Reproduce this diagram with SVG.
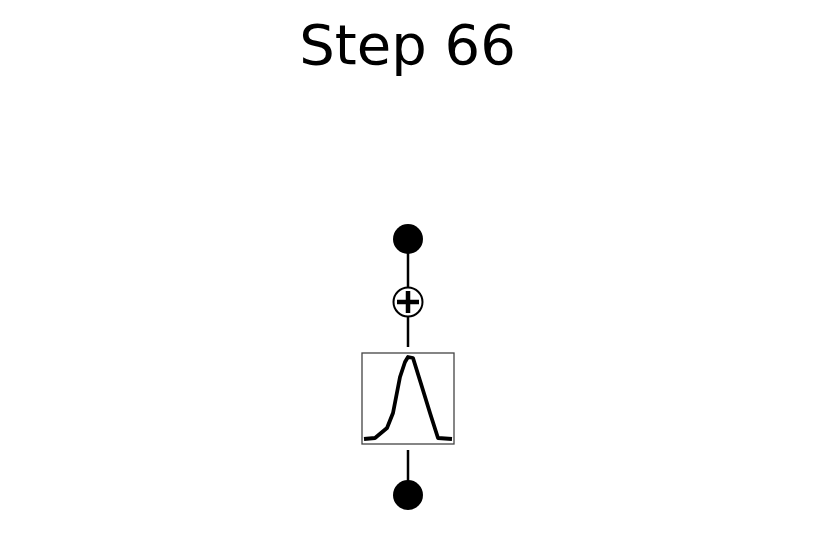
<svg xmlns="http://www.w3.org/2000/svg" width="814" height="541" viewBox="0 0 814 541">
<style>
.title{font-family:"DejaVu Sans",sans-serif;font-size:56px;fill:#000}
.edge{stroke:#000;stroke-width:2.5;fill:none}
.dot{fill:#000}
</style>
<rect width="814" height="541" fill="#fff"/>
<text class="title" x="407.5" y="64" text-anchor="middle">Step 66</text>
<g id="connectors">
<line class="edge" x1="408" y1="252" x2="408" y2="288"/>
<line class="edge" x1="408" y1="316" x2="408" y2="347"/>
<line class="edge" x1="408" y1="450" x2="408" y2="481"/>
</g>
<g id="input">
<circle class="dot" cx="408" cy="239" r="15"/>
</g>
<g id="add">
<circle cx="408" cy="302" r="14.5" fill="#fff" stroke="#000" stroke-width="2"/>
<path d="M397 302H419M408 291V313" stroke="#000" stroke-width="4.5" fill="none"/>
</g>
<g id="gaussian">
<rect x="362" y="353" width="92" height="91" fill="#fff" stroke="#444" stroke-width="1.3"/>
<polyline points="364,439 375,438 387,428 393,413 400,377 405,362 408,357 413,358 422,387 430,413 438,438 452,439" fill="none" stroke="#000" stroke-width="3.8" stroke-linejoin="round"/>
</g>
<g id="output">
<circle class="dot" cx="408" cy="495" r="15"/>
</g>
</svg>
